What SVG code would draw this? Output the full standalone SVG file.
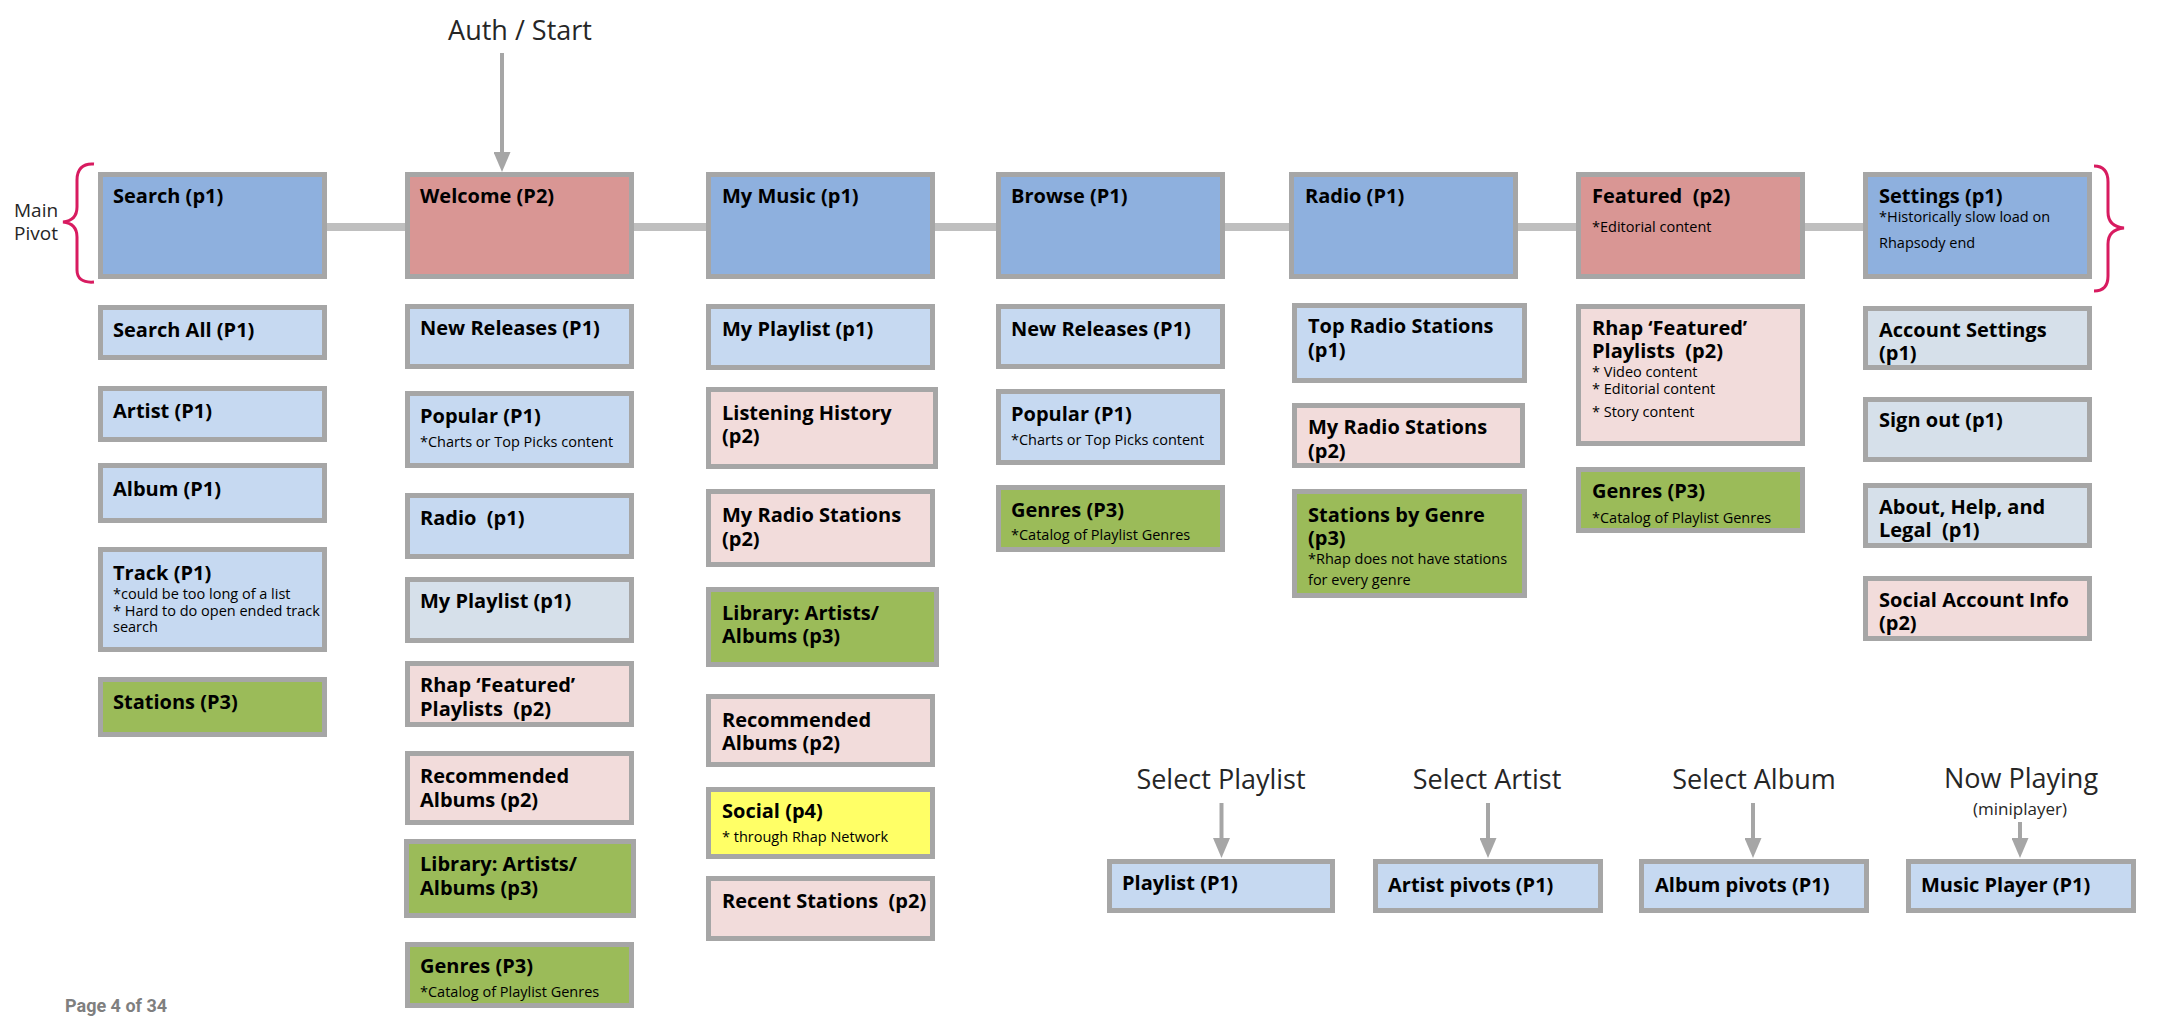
<svg xmlns="http://www.w3.org/2000/svg" width="2158" height="1022" viewBox="0 0 2158 1022">
<style>
.b{stroke:#a6a6a6;stroke-width:5}
.mb{fill:#8eb0de}.rd{fill:#d99694}.lb{fill:#c6d9f1}.gb{fill:#d6e0ea}.pk{fill:#f2dcdb}.gr{fill:#9bbb59}.yl{fill:#ffff66}
.t{font-family:"Open Sans","Noto Sans",sans-serif;font-weight:700;font-size:20px;fill:#000}
.n{font-family:"Open Sans","Noto Sans",sans-serif;font-size:14.5px;fill:#000}
.l{font-family:"Open Sans","Noto Sans",sans-serif;font-size:27px;fill:#262626;text-anchor:middle}
.c{stroke:#bfbfbf;stroke-width:8;stroke-linecap:round;fill:none}
.a{stroke:#a6a6a6;stroke-width:4;fill:none}
.br{stroke:#d81b60;stroke-width:3;fill:none}
</style>
<defs>
<marker id="ah" markerUnits="userSpaceOnUse" markerWidth="20" markerHeight="17" viewBox="0 0 20 17" refX="0" refY="8.5" orient="auto">
<path d="M0,0 L20,8.5 L0,17 z" fill="#a6a6a6"/>
</marker>
</defs>
<rect width="2158" height="1022" fill="#ffffff"/>

<g id="connectors">
<line class="c" x1="327" y1="227" x2="405" y2="227"/>
<line class="c" x1="634" y1="227" x2="706" y2="227"/>
<line class="c" x1="935" y1="227" x2="996" y2="227"/>
<line class="c" x1="1225" y1="227" x2="1289" y2="227"/>
<line class="c" x1="1518" y1="227" x2="1576" y2="227"/>
<line class="c" x1="1805" y1="227" x2="1863" y2="227"/>
<line class="a" x1="502" y1="53" x2="502" y2="152" marker-end="url(#ah)"/>
<line class="a" x1="1221.5" y1="803" x2="1221.5" y2="838" marker-end="url(#ah)"/>
<line class="a" x1="1488" y1="803" x2="1488" y2="838" marker-end="url(#ah)"/>
<line class="a" x1="1753" y1="803" x2="1753" y2="838" marker-end="url(#ah)"/>
<line class="a" x1="2020" y1="822" x2="2020" y2="838" marker-end="url(#ah)"/>
</g>

<g id="labels">
<text class="l" x="520" y="40">Auth / Start</text>
<text class="l" x="1221" y="789">Select Playlist</text>
<text class="l" x="1487" y="789">Select Artist</text>
<text class="l" x="1754" y="789">Select Album</text>
<text class="l" x="2021" y="788">Now Playing</text>
<text class="l" x="2020" y="815" style="font-size:17px">(miniplayer)</text>
<text x="14" y="217" style="font-family:'Open Sans','Noto Sans',sans-serif;font-size:19px;fill:#262626">Main</text>
<text x="14" y="240" style="font-family:'Open Sans','Noto Sans',sans-serif;font-size:19px;fill:#262626">Pivot</text>
<path class="br" d="M94,164 C82,163 77,170 77,180 L77,207 C77,216 72,221 63,222 C72,223 77,228 77,237 L77,270 C77,278 82,283 94,282"/>
<path class="br" d="M2094,166 C2104,166 2108,172 2108,182 L2108,212 C2108,221 2113,227 2124,228 C2113,229 2108,235 2108,244 L2108,276 C2108,285 2104,291 2094,291"/>
<text x="65" y="1012" style="font-family:Roboto,'Liberation Sans',sans-serif;font-weight:700;font-size:18px;fill:#7f7f7f">Page 4 of 34</text>
</g>

<!-- Main pivots -->
<g id="search"><rect class="b mb" x="100.5" y="174.5" width="224" height="102"/><text class="t" x="113" y="203">Search (p1)</text></g>
<g id="welcome"><rect class="b rd" x="407.5" y="174.5" width="224" height="102"/><text class="t" x="420" y="203">Welcome (P2)</text></g>
<g id="mymusic"><rect class="b mb" x="708.5" y="174.5" width="224" height="102"/><text class="t" x="722" y="203">My Music (p1)</text></g>
<g id="browse"><rect class="b mb" x="998.5" y="174.5" width="224" height="102"/><text class="t" x="1011" y="203">Browse (P1)</text></g>
<g id="radio"><rect class="b mb" x="1291.5" y="174.5" width="224" height="102"/><text class="t" x="1305" y="203">Radio (P1)</text></g>
<g id="featured"><rect class="b rd" x="1578.5" y="174.5" width="224" height="102"/><text class="t" x="1592" y="203">Featured&#160; (p2)</text><text class="n" x="1592" y="232">*Editorial content</text></g>
<g id="settings"><rect class="b mb" x="1865.5" y="174.5" width="224" height="102"/><text class="t" x="1879" y="203">Settings (p1)</text><text class="n" x="1879" y="222">*Historically slow load on</text><text class="n" x="1879" y="248">Rhapsody end</text></g>

<!-- Search column -->
<g id="search-all"><rect class="b lb" x="100.5" y="307.5" width="224" height="50"/><text class="t" x="113" y="337">Search All (P1)</text></g>
<g id="artist"><rect class="b lb" x="100.5" y="388.5" width="224" height="51"/><text class="t" x="113" y="418">Artist (P1)</text></g>
<g id="album"><rect class="b lb" x="100.5" y="465.5" width="224" height="55"/><text class="t" x="113" y="496">Album (P1)</text></g>
<g id="track"><rect class="b lb" x="100.5" y="549.5" width="224" height="100"/><text class="t" x="113" y="580">Track (P1)</text><text class="n" x="113" y="599">*could be too long of a list</text><text class="n" x="113" y="616">* Hard to do open ended track</text><text class="n" x="113" y="632">search</text></g>
<g id="stations"><rect class="b gr" x="100.5" y="679.5" width="224" height="55"/><text class="t" x="113" y="709">Stations (P3)</text></g>

<!-- Welcome column -->
<g id="w-new-releases"><rect class="b lb" x="407.5" y="306.5" width="224" height="60"/><text class="t" x="420" y="335">New Releases (P1)</text></g>
<g id="w-popular"><rect class="b lb" x="407.5" y="393.5" width="224" height="72"/><text class="t" x="420" y="423">Popular (P1)</text><text class="n" x="420" y="447">*Charts or Top Picks content</text></g>
<g id="w-radio"><rect class="b lb" x="407.5" y="495.5" width="224" height="61"/><text class="t" x="420" y="525">Radio&#160; (p1)</text></g>
<g id="w-my-playlist"><rect class="b gb" x="407.5" y="579.5" width="224" height="61"/><text class="t" x="420" y="608">My Playlist (p1)</text></g>
<g id="w-rhap-featured"><rect class="b pk" x="407.5" y="663.5" width="224" height="61"/><text class="t" x="420" y="692">Rhap ‘Featured’</text><text class="t" x="420" y="716">Playlists&#160; (p2)</text></g>
<g id="w-recommended"><rect class="b pk" x="407.5" y="753.5" width="224" height="69"/><text class="t" x="420" y="783">Recommended</text><text class="t" x="420" y="807">Albums (p2)</text></g>
<g id="w-library"><rect class="b gr" x="406.5" y="841.5" width="227" height="74"/><text class="t" x="420" y="871">Library: Artists/</text><text class="t" x="420" y="895">Albums (p3)</text></g>
<g id="w-genres"><rect class="b gr" x="407.5" y="944.5" width="224" height="61"/><text class="t" x="420" y="973">Genres (P3)</text><text class="n" x="420" y="997">*Catalog of Playlist Genres</text></g>

<!-- My Music column -->
<g id="m-my-playlist"><rect class="b lb" x="708.5" y="306.5" width="224" height="61"/><text class="t" x="722" y="336">My Playlist (p1)</text></g>
<g id="m-listening"><rect class="b pk" x="708.5" y="389.5" width="227" height="77"/><text class="t" x="722" y="420">Listening History</text><text class="t" x="722" y="443">(p2)</text></g>
<g id="m-my-radio"><rect class="b pk" x="708.5" y="491.5" width="224" height="73"/><text class="t" x="722" y="522">My Radio Stations</text><text class="t" x="722" y="546">(p2)</text></g>
<g id="m-library"><rect class="b gr" x="708.5" y="589.5" width="228" height="75"/><text class="t" x="722" y="620">Library: Artists/</text><text class="t" x="722" y="643">Albums (p3)</text></g>
<g id="m-recommended"><rect class="b pk" x="708.5" y="696.5" width="224" height="68"/><text class="t" x="722" y="727">Recommended</text><text class="t" x="722" y="750">Albums (p2)</text></g>
<g id="m-social"><rect class="b yl" x="708.5" y="789.5" width="224" height="67"/><text class="t" x="722" y="818">Social (p4)</text><text class="n" x="722" y="842">* through Rhap Network</text></g>
<g id="m-recent"><rect class="b pk" x="708.5" y="878.5" width="224" height="60"/><text class="t" x="722" y="908">Recent Stations&#160; (p2)</text></g>

<!-- Browse column -->
<g id="b-new-releases"><rect class="b lb" x="998.5" y="306.5" width="224" height="60"/><text class="t" x="1011" y="336">New Releases (P1)</text></g>
<g id="b-popular"><rect class="b lb" x="998.5" y="391.5" width="224" height="71"/><text class="t" x="1011" y="421">Popular (P1)</text><text class="n" x="1011" y="445">*Charts or Top Picks content</text></g>
<g id="b-genres"><rect class="b gr" x="998.5" y="487.5" width="224" height="62"/><text class="t" x="1011" y="517">Genres (P3)</text><text class="n" x="1011" y="540">*Catalog of Playlist Genres</text></g>

<!-- Radio column -->
<g id="r-top"><rect class="b lb" x="1294.5" y="305.5" width="230" height="75"/><text class="t" x="1308" y="333">Top Radio Stations</text><text class="t" x="1308" y="357">(p1)</text></g>
<g id="r-my-radio"><rect class="b pk" x="1294.5" y="405.5" width="228" height="60"/><text class="t" x="1308" y="434">My Radio Stations</text><text class="t" x="1308" y="458">(p2)</text></g>
<g id="r-by-genre"><rect class="b gr" x="1294.5" y="491.5" width="230" height="104"/><text class="t" x="1308" y="522">Stations by Genre</text><text class="t" x="1308" y="545">(p3)</text><text class="n" x="1308" y="564">*Rhap does not have stations</text><text class="n" x="1308" y="585">for every genre</text></g>

<!-- Featured column -->
<g id="f-rhap-featured"><rect class="b pk" x="1578.5" y="306.5" width="224" height="137"/><text class="t" x="1592" y="335">Rhap ‘Featured’</text><text class="t" x="1592" y="358">Playlists&#160; (p2)</text><text class="n" x="1592" y="377">* Video content</text><text class="n" x="1592" y="394">* Editorial content</text><text class="n" x="1592" y="417">* Story content</text></g>
<g id="f-genres"><rect class="b gr" x="1578.5" y="469.5" width="224" height="61"/><text class="t" x="1592" y="498">Genres (P3)</text><text class="n" x="1592" y="523">*Catalog of Playlist Genres</text></g>

<!-- Settings column -->
<g id="s-account"><rect class="b gb" x="1865.5" y="308.5" width="224" height="59"/><text class="t" x="1879" y="337">Account Settings</text><text class="t" x="1879" y="360">(p1)</text></g>
<g id="s-signout"><rect class="b gb" x="1865.5" y="399.5" width="224" height="60"/><text class="t" x="1879" y="427">Sign out (p1)</text></g>
<g id="s-about"><rect class="b gb" x="1865.5" y="485.5" width="224" height="60"/><text class="t" x="1879" y="514">About, Help, and</text><text class="t" x="1879" y="537">Legal&#160; (p1)</text></g>
<g id="s-social"><rect class="b pk" x="1865.5" y="578.5" width="224" height="60"/><text class="t" x="1879" y="607">Social Account Info</text><text class="t" x="1879" y="630">(p2)</text></g>

<!-- Bottom row -->
<g id="playlist"><rect class="b lb" x="1109.5" y="861.5" width="223" height="49"/><text class="t" x="1122" y="890">Playlist (P1)</text></g>
<g id="artist-pivots"><rect class="b lb" x="1375.5" y="861.5" width="225" height="49"/><text class="t" x="1388" y="892">Artist pivots (P1)</text></g>
<g id="album-pivots"><rect class="b lb" x="1641.5" y="861.5" width="225" height="49"/><text class="t" x="1655" y="892">Album pivots (P1)</text></g>
<g id="music-player"><rect class="b lb" x="1908.5" y="861.5" width="225" height="49"/><text class="t" x="1921" y="892">Music Player (P1)</text></g>
</svg>
